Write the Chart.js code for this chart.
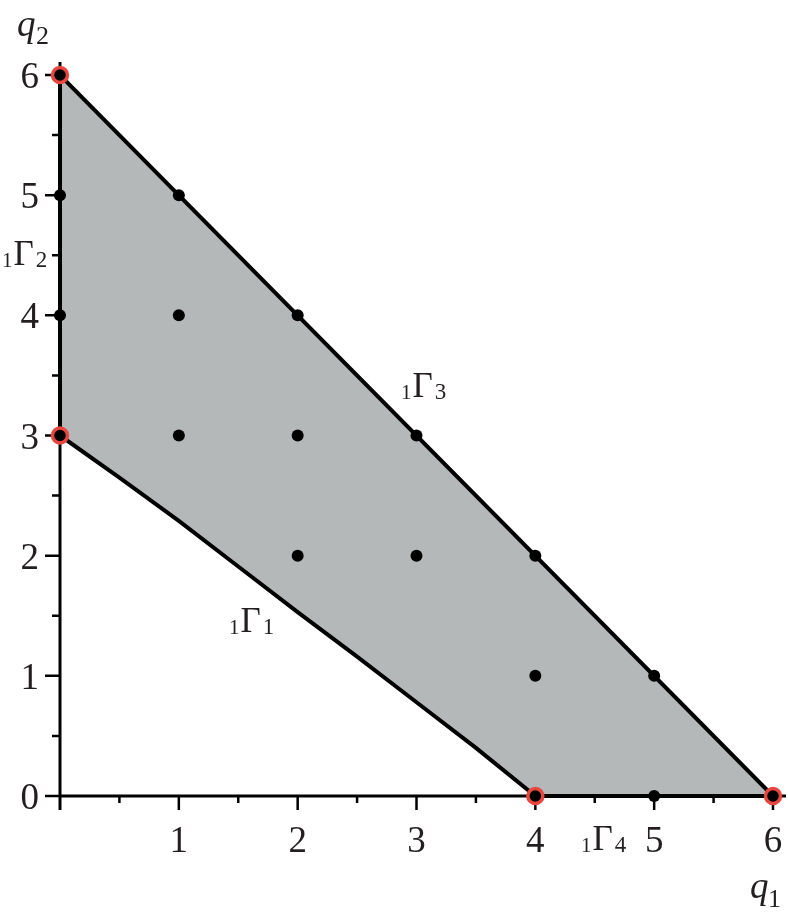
<!DOCTYPE html>
<html>
<head>
<meta charset="utf-8">
<script src="https://cdn.jsdelivr.net/npm/chart.js@4"></script>
<style>
  html, body { margin: 0; padding: 0; background: #fff; }
  canvas { display: block; }
</style>
</head>
<body>
<canvas id="grafico" width="788" height="920"></canvas>
<script>
// lower boundary curve 1Γ1, from (0,3) to (4,0)
var curveX = [0, 0.5, 1, 1.5, 2, 2.5, 3, 3.5, 4];
var curveY = [3, 2.65, 2.29, 1.91, 1.53, 1.16, 0.78, 0.40, 0];

// remaining corners of the region: along q1 axis, down the diagonal, up q2 axis
var cornerX = [6, 0, 0];
var cornerY = [0, 6, 3];

// lattice points inside / on the region
var dotX = [0, 0, 1, 1, 1, 2, 2, 2, 3, 3, 4, 4, 5, 5];
var dotY = [5, 4, 5, 4, 3, 4, 3, 2, 3, 2, 2, 1, 1, 0];

// vertices marked with a red ring
var vertexX = [0, 0, 4, 6];
var vertexY = [6, 3, 0, 0];

var xTicks = [1, 2, 3, 4, 5, 6];
var yTicks = [0, 1, 2, 3, 4, 5, 6];

function pares(xs, ys) {
    var out = [];
    for (var i = 0; i < xs.length; i++) out.push({ x: xs[i], y: ys[i] });
    return out;
}

var regiao = pares(curveX, curveY).concat(pares(cornerX, cornerY));

var serif = '"Liberation Serif", "DejaVu Serif", serif';

// subscripted label like 1Γ2, drawn left to right from x at baseline y
function rotuloGamma(ctx, x, y, pre, pos) {
    ctx.textAlign = 'left';
    ctx.textBaseline = 'alphabetic';
    ctx.font = '21px ' + serif;
    ctx.fillText(pre, x, y + 2);
    x += ctx.measureText(pre).width + 1;
    ctx.font = '35px ' + serif;
    ctx.fillText('\u0393', x, y);
    x += ctx.measureText('\u0393').width + 2;
    ctx.font = '23px ' + serif;
    ctx.fillText(pos, x, y + 2);
}

var eixos = {
    id: 'eixos',
    beforeDatasetsDraw: function (chart) {
        var ctx = chart.ctx;
        var sx = chart.scales.x, sy = chart.scales.y;
        var x0 = sx.getPixelForValue(0), y0 = sy.getPixelForValue(0);
        ctx.save();
        ctx.strokeStyle = '#000';
        ctx.lineCap = 'butt';

        // axis lines
        ctx.lineWidth = 3;
        ctx.beginPath();
        ctx.moveTo(x0, y0);
        ctx.lineTo(786, y0);
        ctx.moveTo(x0, 810);
        ctx.lineTo(x0, 62);
        ctx.stroke();

        // ticks
        ctx.lineWidth = 2.5;
        ctx.beginPath();
        for (var v = 0; v <= 6; v += 0.5) {
            var inteiro = v % 1 === 0;
            var px = sx.getPixelForValue(v);
            var py = sy.getPixelForValue(v);
            if (v > 0) {
                ctx.moveTo(px, y0);
                ctx.lineTo(px, y0 + (inteiro ? 14 : 7));
            }
            ctx.moveTo(x0, py);
            ctx.lineTo(x0 - (inteiro ? 15 : 8), py);
        }
        ctx.stroke();
        ctx.restore();
    },
    afterDraw: function (chart) {
        var ctx = chart.ctx;
        var sx = chart.scales.x, sy = chart.scales.y;
        ctx.save();
        ctx.fillStyle = '#231f20';

        // tick labels
        ctx.font = '37px ' + serif;
        ctx.textBaseline = 'alphabetic';
        ctx.textAlign = 'right';
        yTicks.forEach(function (t) {
            ctx.fillText(String(t), 39, sy.getPixelForValue(t) + 13);
        });
        ctx.textAlign = 'center';
        xTicks.forEach(function (t) {
            ctx.fillText(String(t), sx.getPixelForValue(t), 852);
        });

        // axis names
        ctx.textAlign = 'left';
        ctx.font = 'italic 37px ' + serif;
        ctx.fillText('q', 17, 36);
        ctx.fillText('q', 750, 898);
        ctx.font = '26px ' + serif;
        ctx.fillText('2', 36, 44);
        ctx.fillText('1', 768, 907);

        // boundary names
        rotuloGamma(ctx, 2, 265, '1', '2');
        rotuloGamma(ctx, 401, 397, '1', '3');
        rotuloGamma(ctx, 229, 632, '1', '1');
        rotuloGamma(ctx, 581, 850, '1', '4');
        ctx.restore();
    }
};

var ctx = document.getElementById('grafico').getContext('2d');

var grafico = new Chart(ctx, {
    type: 'scatter',
    data: {
        datasets: [
            {
                label: 'regiao',
                data: regiao,
                showLine: true,
                fill: 'shape',
                tension: 0,
                backgroundColor: '#b5b8b9',
                borderColor: '#000',
                borderWidth: 4,
                borderJoinStyle: 'miter',
                pointRadius: 0,
                order: 3
            },
            {
                label: 'pontos',
                data: pares(dotX, dotY),
                backgroundColor: '#000',
                borderWidth: 0,
                pointRadius: 6,
                order: 2
            },
            {
                label: 'vertices',
                data: pares(vertexX, vertexY),
                backgroundColor: '#000',
                borderColor: '#e8473f',
                borderWidth: 3.5,
                pointRadius: 7.5,
                order: 1
            }
        ]
    },
    options: {
        responsive: false,
        animation: false,
        layout: { padding: { left: 60, right: 15, top: 75, bottom: 124 } },
        clip: false,
        scales: {
            x: { type: 'linear', min: 0, max: 6, display: false },
            y: { type: 'linear', min: 0, max: 6, display: false }
        },
        plugins: {
            legend: { display: false },
            tooltip: { enabled: false }
        }
    },
    plugins: [eixos]
});
</script>
</body>
</html>
